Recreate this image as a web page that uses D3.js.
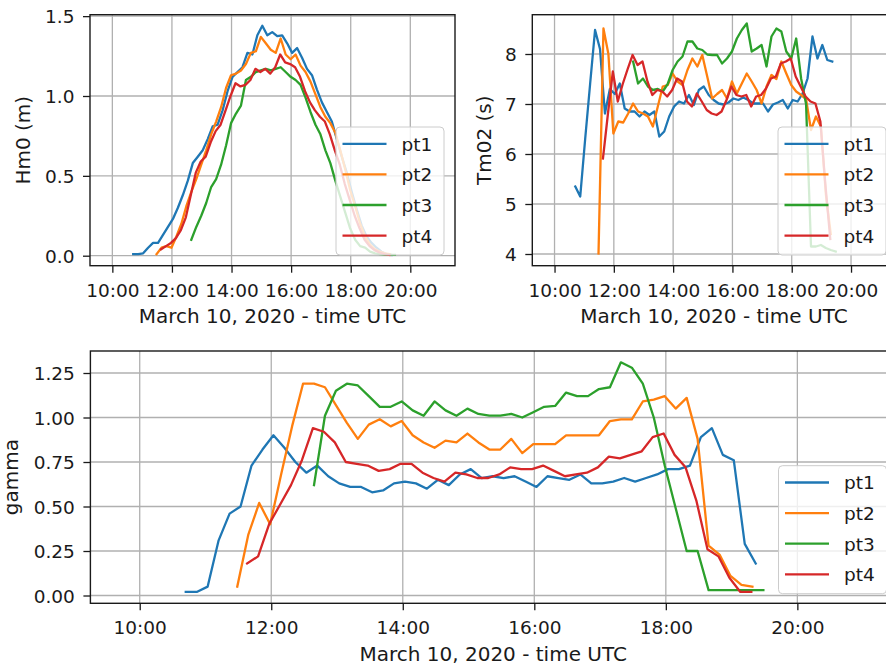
<!DOCTYPE html>
<html>
<head>
<meta charset="utf-8">
<script src="https://cdn.jsdelivr.net/npm/d3@7"></script>
<style>
  html, body { margin: 0; padding: 0; background: #fff; }
  svg { display: block; font-family: "DejaVu Sans", sans-serif; }
</style>
</head>
<body>
<svg id="chart" width="886" height="671" overflow="hidden"></svg>
<script>
// ---------- data ----------
const seriesNames = ["pt1", "pt2", "pt3", "pt4"];
const seriesColors = ["#1f77b4", "#ff7f0e", "#2ca02c", "#d62728"];
// first sample time of each series (March 10, 2020, UTC); samples every 10 minutes
const startTimes = ["2020-03-10T10:42", "2020-03-10T11:29", "2020-03-10T12:39", "2020-03-10T11:38"];
const stepMinutes = 10;

const hm0Pt1 = [0.01,0.01,0.015,0.05,0.08,0.08,0.13,0.18,0.23,0.30,0.38,0.47,0.58,0.62,0.66,0.73,0.81,0.82,0.91,1.03,1.12,1.15,1.18,1.27,1.26,1.38,1.44,1.38,1.40,1.375,1.38,1.33,1.27,1.30,1.24,1.17,1.13,1.04,0.96,0.90,0.84,0.73,0.62,0.52,0.40,0.29,0.19,0.12,0.08,0.05,0.025,0.01,0.005];
const hm0Pt2 = [0.01,0.05,0.06,0.05,0.12,0.20,0.31,0.40,0.48,0.57,0.66,0.76,0.84,0.93,1.05,1.13,1.14,1.16,1.20,1.27,1.28,1.37,1.33,1.29,1.27,1.36,1.26,1.23,1.26,1.19,1.15,1.09,1.01,0.93,0.87,0.83,0.77,0.66,0.54,0.41,0.31,0.20,0.12,0.07,0.04,0.025,0.015,0.01];
const hm0Pt3 = [0.10,0.18,0.25,0.33,0.43,0.48,0.57,0.69,0.83,0.89,0.94,1.10,1.12,1.15,1.16,1.17,1.16,1.17,1.18,1.15,1.12,1.10,1.07,0.99,0.90,0.82,0.76,0.66,0.58,0.47,0.37,0.27,0.17,0.10,0.06,0.05,0.025,0.015,0.01,0.005,0.005,0.005];
const hm0Pt4 = [0.04,0.06,0.08,0.11,0.16,0.24,0.38,0.52,0.59,0.62,0.71,0.78,0.82,0.91,1.00,1.08,1.06,1.07,1.10,1.17,1.15,1.17,1.14,1.18,1.26,1.21,1.20,1.18,1.12,1.03,0.96,0.91,0.87,0.84,0.76,0.66,0.57,0.45,0.35,0.25,0.17,0.10,0.06,0.035,0.02,0.01,0.005];

const tm02Pt1 = [5.35,5.15,6.3,7.4,8.48,8.1,6.81,7.3,7.2,7.41,6.91,6.85,6.85,6.75,6.85,6.78,6.85,6.35,6.45,6.75,6.95,7.05,7.01,7.18,6.98,7.28,7.35,7.18,7.08,7.01,6.99,7.03,7.11,7.08,7.13,7.08,7.01,7.01,7.01,6.85,6.99,7.03,7.08,6.91,7.08,7.05,7.21,7.51,8.35,7.91,8.18,7.88,7.85];
const tm02Pt2 = [4.01,8.51,8.0,6.41,6.65,6.63,6.81,7.01,6.85,6.81,6.75,6.55,6.95,7.35,7.38,7.61,7.45,7.38,7.68,7.91,7.75,7.98,7.55,7.11,7.2,7.28,7.11,7.45,7.21,7.41,7.61,7.45,7.28,7.01,7.35,7.58,7.5,7.85,7.61,7.38,7.25,7.18,7.1,6.48,6.75,6.55,5.2,4.4];
const tm02Pt3 = [7.85,7.41,7.51,7.35,7.28,7.3,7.25,7.4,7.68,7.85,7.95,8.25,8.25,8.11,8.08,7.99,7.98,7.98,7.81,7.91,8.05,8.31,8.48,8.61,8.05,8.11,8.18,7.75,8.35,8.51,8.45,8.05,7.91,8.31,7.51,7.0,4.15,4.15,4.18,4.12,4.08,4.05];
const tm02Pt4 = [5.91,6.8,7.65,7.05,7.4,7.7,7.98,7.78,7.85,7.45,7.18,7.28,7.25,7.15,7.28,7.51,7.45,7.05,6.95,7.21,7.05,6.88,6.81,6.78,6.85,7.08,7.35,7.18,7.15,7.18,6.95,7.15,7.18,7.31,7.51,7.55,7.81,7.85,7.91,7.55,7.35,7.15,7.05,7.01,6.65,5.4,4.3];

const gammaPt1 = [0.02,0.02,0.05,0.31,0.46,0.50,0.73,0.82,0.90,0.83,0.75,0.69,0.73,0.67,0.63,0.61,0.61,0.58,0.59,0.63,0.64,0.63,0.60,0.65,0.62,0.68,0.71,0.66,0.67,0.66,0.67,0.64,0.61,0.67,0.66,0.65,0.68,0.63,0.63,0.64,0.66,0.64,0.66,0.68,0.71,0.71,0.73,0.89,0.94,0.79,0.76,0.29,0.18];
const gammaPt2 = [0.05,0.34,0.52,0.40,0.68,0.95,1.19,1.19,1.17,1.07,0.97,0.88,0.96,0.99,0.95,0.98,0.90,0.86,0.83,0.87,0.86,0.91,0.86,0.82,0.82,0.88,0.80,0.85,0.85,0.85,0.90,0.90,0.90,0.90,0.98,0.99,0.99,1.09,1.10,1.12,1.05,1.11,0.88,0.28,0.23,0.11,0.06,0.05];
const gammaPt3 = [0.62,1.01,1.15,1.19,1.18,1.12,1.06,1.06,1.09,1.04,1.01,1.09,1.04,1.01,1.05,1.02,1.01,1.01,1.02,1.00,1.03,1.06,1.065,1.14,1.12,1.12,1.16,1.17,1.31,1.28,1.19,1.00,0.73,0.49,0.25,0.25,0.03,0.03,0.03,0.03,0.03,0.03];
const gammaPt4 = [0.18,0.22,0.40,0.51,0.62,0.76,0.94,0.92,0.86,0.75,0.74,0.73,0.70,0.71,0.74,0.74,0.69,0.66,0.64,0.69,0.68,0.66,0.66,0.68,0.72,0.71,0.71,0.73,0.70,0.67,0.68,0.69,0.72,0.78,0.77,0.79,0.81,0.89,0.91,0.79,0.72,0.53,0.26,0.22,0.10,0.02,0.02];

const xTickLabels = ["10:00", "12:00", "14:00", "16:00", "18:00", "20:00"];
const hm0Ticks = [0.0, 0.5, 1.0, 1.5];
const tm02Ticks = [4, 5, 6, 7, 8];
const gammaTicks = [0.00, 0.25, 0.50, 0.75, 1.00, 1.25];
const xLabel = "March 10, 2020 - time UTC";

// ---------- helpers ----------
const parse = d3.utcParse("%Y-%m-%dT%H:%M");
const xDomain = [parse("2020-03-10T09:15"), parse("2020-03-10T21:30")];
const xTickValues = xTickLabels.map(s => parse("2020-03-10T" + s));

function toPoints(values, seriesIdx) {
  const t0 = parse(startTimes[seriesIdx]);
  return values.map((v, i) => ({ t: d3.utcMinute.offset(t0, i * stepMinutes), v }));
}

const svg = d3.select("#chart");
svg.append("rect").attr("width", 886).attr("height", 671).attr("fill", "#fff");

const TICK_FONT = 18.5, LABEL_FONT = 20, LEG_FONT = 18.5;
const INK = "#1a1a1a";

function panel(cfg, idx) {
  const { left, right, top, bottom, yDomain, yTicks, yFmt, yLabel, yLabelX, series, legLeft, legTop } = cfg;
  const x = d3.scaleUtc().domain(xDomain).range([left, right]);
  const y = d3.scaleLinear().domain(yDomain).range([bottom, top]);
  const g = svg.append("g");

  const clipId = "clip" + idx;
  svg.append("clipPath").attr("id", clipId)
    .append("rect").attr("x", left).attr("y", top).attr("width", right - left).attr("height", bottom - top);

  // grid
  const grid = g.append("g").attr("stroke", "#b0b0b0").attr("stroke-width", 1.3);
  xTickValues.forEach(t => grid.append("line")
    .attr("x1", x(t)).attr("x2", x(t)).attr("y1", top).attr("y2", bottom));
  yTicks.forEach(v => grid.append("line")
    .attr("x1", left).attr("x2", right).attr("y1", y(v)).attr("y2", y(v)));

  // lines
  const line = d3.line().x(d => x(d.t)).y(d => y(d.v));
  const lg = g.append("g").attr("clip-path", `url(#${clipId})`);
  series.forEach((vals, i) => {
    lg.append("path")
      .attr("d", line(toPoints(vals, i)))
      .attr("fill", "none")
      .attr("stroke", seriesColors[i])
      .attr("stroke-width", 2.3)
      .attr("stroke-linejoin", "round")
      .attr("stroke-linecap", "square");
  });

  // axes via d3
  const xAxis = d3.axisBottom(x).tickValues(xTickValues).tickFormat(d3.utcFormat("%H:%M"))
    .tickSize(7).tickPadding(8);
  const ax = g.append("g").attr("transform", `translate(0,${bottom})`).call(xAxis);
  ax.select(".domain").remove();
  ax.selectAll(".tick line").attr("stroke", INK).attr("stroke-width", 1.3);
  ax.selectAll(".tick text").attr("font-size", TICK_FONT).attr("fill", INK)
    .attr("font-family", "DejaVu Sans").attr("dy", null).attr("y", 31);

  const yAxis = d3.axisLeft(y).tickValues(yTicks).tickFormat(d3.format(yFmt))
    .tickSize(7).tickPadding(8);
  const ay = g.append("g").attr("transform", `translate(${left},0)`).call(yAxis);
  ay.select(".domain").remove();
  ay.selectAll(".tick line").attr("stroke", INK).attr("stroke-width", 1.3);
  ay.selectAll(".tick text").attr("font-size", TICK_FONT).attr("fill", INK)
    .attr("font-family", "DejaVu Sans").attr("dy", null).attr("x", -15.5).attr("y", 6.7);

  // spines
  g.append("rect").attr("x", left).attr("y", top).attr("width", right - left).attr("height", bottom - top)
    .attr("fill", "none").attr("stroke", INK).attr("stroke-width", 1.4);

  // labels
  g.append("text").attr("x", (left + right) / 2).attr("y", bottom + 57.3)
    .attr("text-anchor", "middle").attr("font-size", LABEL_FONT).attr("fill", INK).text(xLabel);
  g.append("text").attr("transform", `translate(${yLabelX},${(top + bottom) / 2}) rotate(-90)`)
    .attr("text-anchor", "middle").attr("font-size", LABEL_FONT).attr("fill", INK).text(yLabel);

  // legend
  const leg = g.append("g").attr("transform", `translate(${legLeft},${legTop})`);
  leg.append("rect").attr("x", 0).attr("y", 0).attr("width", 108).attr("height", 128).attr("rx", 4)
    .attr("fill", "#fff").attr("fill-opacity", 0.8).attr("stroke", "#cccccc").attr("stroke-width", 1);
  seriesNames.forEach((name, i) => {
    const ly = 16.8 + 30.6 * i;
    leg.append("line").attr("x1", 6.5).attr("x2", 50.5).attr("y1", ly).attr("y2", ly)
      .attr("stroke", seriesColors[i]).attr("stroke-width", 2.3);
    leg.append("text").attr("x", 65.5).attr("y", ly + 7).attr("font-size", LEG_FONT).attr("fill", INK).text(name);
  });
}

panel({
  left: 90, right: 455, top: 14.7, bottom: 265.7,
  yDomain: [-0.0626, 1.509], yTicks: hm0Ticks, yFmt: ".1f",
  yLabel: "Hm0 (m)", yLabelX: 30,
  series: [hm0Pt1, hm0Pt2, hm0Pt3, hm0Pt4],
  legLeft: 336, legTop: 127
}, 0);

panel({
  left: 532.3, right: 895.5, top: 14.7, bottom: 265.7,
  yDomain: [3.766, 8.786], yTicks: tm02Ticks, yFmt: "d",
  yLabel: "Tm02 (s)", yLabelX: 491,
  series: [tm02Pt1, tm02Pt2, tm02Pt3, tm02Pt4],
  legLeft: 778, legTop: 127
}, 1);

panel({
  left: 90.4, right: 896, top: 351, bottom: 603.3,
  yDomain: [-0.0438, 1.3736], yTicks: gammaTicks, yFmt: ".2f",
  yLabel: "gamma", yLabelX: 18,
  series: [gammaPt1, gammaPt2, gammaPt3, gammaPt4],
  legLeft: 778.5, legTop: 465.7
}, 2);
</script>
</body>
</html>
